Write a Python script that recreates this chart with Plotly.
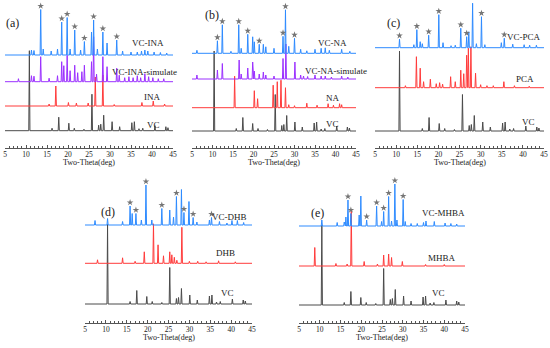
import plotly.graph_objects as go

# ---------------- data (2-theta in degrees, intensity in arbitrary units) ----------------
TICK_VALS = [5, 10, 15, 20, 25, 30, 35, 40, 45]
PANEL_TAGS = ["(a)", "(b)", "(c)", "(d)", "(e)"]
X_TITLE = "Two-Theta(deg)"

VC_POS = [10.4, 15.8, 17.4, 19.8, 21.1, 23.4, 25.3, 26.9, 27.4, 28.1, 30.1, 31.9,
          34.8, 35.4, 36.5, 37.4, 40.3, 42.9, 43.4]
VC_INT = [80, 2.5, 13.5, 7.5, 2.5, 1.5, 36.5, 5.5, 6.5, 15.5, 9, 4,
          8, 9, 2, 2.5, 5, 4, 3]

# panel (a)
VC_INA_POS = [11.3, 11.9, 13.5, 14.1, 16.0, 17.5, 18.5, 19.8, 20.5, 21.6, 23.0, 23.9, 25.6, 26.1,
              27.0, 28.3, 29.3, 31.6, 33.0, 35.0, 36.5, 37.5, 38.3, 39.0, 40.5, 42.0, 43.5]
VC_INA_INT = [5, 4.5, 45.5, 6, 4, 6, 33, 37.5, 6, 25, 5, 13.5, 23, 35,
              6, 23, 12, 15, 4, 3, 3, 4, 5, 4, 3, 2.5, 2]
VC_INA_STARS = [13.5, 18.5, 19.8, 21.6, 23.9, 26.1, 28.3, 31.6]
VC_INA_SIM_POS = [8.2, 11.3, 11.9, 13.5, 15.5, 17.5, 18.5, 19.0, 19.8, 20.5, 21.6, 22.3, 23.3, 23.9,
                  25.6, 26.1, 26.8, 28.3, 29.3, 31.6, 32.2, 33.5, 34.5, 35.5, 36.5, 37.3, 38.3,
                  39.2, 40.2, 41.5, 42.8]
VC_INA_SIM_INT = [3, 6, 5.5, 25, 3.5, 6, 20, 16, 26.5, 11, 16.5, 9, 10, 16.5,
                  20, 45, 7.5, 25, 15, 13.5, 6.5, 4, 5, 4, 6, 4, 8,
                  5, 4, 3, 3]
INA_POS = [15.5, 17.1, 20.1, 22.0, 24.8, 26.5, 28.3, 31.0, 37.6, 40.3, 43.0]
INA_INT = [2, 20, 3.5, 3, 3, 29, 31, 1.5, 3.5, 5, 2]

# panel (b)
VC_NA_POS = [6.2, 11.2, 12.4, 14.5, 16.4, 17.0, 18.6, 19.8, 20.2, 21.4, 22.4, 23.0, 25.0, 27.2,
             27.8, 28.6, 30.0, 31.5, 33.0, 35.0, 36.5, 37.5, 38.5, 41.5, 43.5]
VC_NA_INT = [3, 12.5, 28.5, 2, 28.5, 5, 19, 16.5, 11.5, 9, 9, 6.5, 5, 17,
             43.5, 7, 15, 4, 2.5, 4, 5, 5.5, 3, 4, 2]
VC_NA_STARS = [11.2, 12.4, 16.4, 18.6, 21.4, 27.2, 27.8, 30.0]
VC_NA_SIM_POS = [6.2, 11.2, 12.4, 16.5, 17.0, 18.6, 19.8, 20.2, 21.4, 22.4, 23.0, 25.0, 27.2, 27.9,
                 30.1, 31.5, 32.2, 33.2, 35.0, 36.5, 37.5, 39.0, 41.5, 43.0]
VC_NA_SIM_INT = [4, 9, 15.5, 19, 5, 11, 17, 8, 5, 7, 4, 3, 20.5, 35,
                 17, 4, 3, 2.5, 4, 3, 3, 2, 3, 2]
NA_POS = [15.4, 20.2, 21.0, 24.8, 25.8, 26.7, 27.8, 28.6, 30.0, 33.0, 35.5, 38.2, 39.5, 41.0, 41.5]
NA_INT = [31.5, 17, 9, 22.5, 26, 27.5, 20, 3, 2, 4.5, 2.5, 4, 2.5, 4, 3]

# panel (c)
VC_PCA_POS = [10.8, 14.2, 14.9, 15.7, 16.2, 17.7, 20.1, 21.1, 23.0, 24.0, 25.3, 26.7, 27.2, 28.1,
              29.0, 30.2, 31.0, 34.9, 35.6, 37.6, 40.3, 41.6, 43.2]
VC_PCA_INT = [8.5, 3, 18, 6, 4, 12.5, 33, 5, 2, 2.5, 19.5, 11, 16, 44.5,
              4, 31, 3, 5, 9.5, 3.5, 3, 2.5, 2.5]
VC_PCA_STARS = [10.8, 14.9, 17.7, 20.1, 25.3, 26.7, 30.2, 35.6]
PCA_POS = [12.2, 14.8, 15.7, 16.5, 18.1, 19.5, 20.3, 21.0, 22.9, 24.0, 25.3, 26.0, 26.7, 27.1,
           27.7, 28.8, 30.0, 31.5, 33.0, 35.5, 38.0, 41.5]
PCA_INT = [2, 31, 19.5, 6, 8.5, 4, 5, 3.5, 11, 6, 17.5, 14, 32.5, 39.5,
           41, 14.5, 3, 2, 2, 6, 2, 1.5]

# panel (d)
VC_DHB_POS = [7.4, 10.4, 14.0, 15.8, 16.3, 17.2, 18.5, 19.6, 21.0, 23.4, 25.3, 26.2, 26.9, 28.1,
              28.7, 29.9, 30.9, 31.8, 34.8, 35.3, 37.2, 39.0, 40.2, 41.5, 43.0]
VC_DHB_INT = [4.5, 6.5, 3.5, 19, 11.5, 11.5, 5, 40, 5, 16.5, 15, 8, 28.5, 35.5,
              12.5, 23.5, 7.5, 3, 5, 7.5, 3.5, 2, 4.5, 4.5, 2.5]
VC_DHB_STARS = [15.8, 17.2, 19.6, 23.4, 26.9, 28.7, 30.9, 35.3]
DHB_POS = [8.0, 14.0, 17.0, 19.2, 21.4, 22.5, 23.8, 25.3, 25.8, 26.4, 27.0, 28.2, 30.0, 32.0,
           34.0, 37.0, 41.0]
DHB_INT = [3.5, 5.5, 2, 11.5, 39.5, 18.5, 7.5, 11.5, 8.5, 6, 3, 36, 2, 2,
           1.5, 2.5, 1.5]

# panel (e)
VC_MHBA_POS = [10.5, 14.2, 15.9, 16.3, 16.8, 17.5, 19.5, 19.9, 21.3, 23.7, 24.9, 25.4, 26.6, 27.3,
               28.1, 28.6, 30.1, 30.6, 32.0, 33.5, 35.0, 35.6, 37.6, 40.2, 41.6, 43.0]
VC_MHBA_INT = [6, 3.5, 4, 9, 26, 12.5, 11, 30, 6, 20, 4.5, 14.5, 29.5, 5,
               42, 6, 26.5, 4.5, 2.5, 2.5, 3.5, 5, 4.5, 3, 2.5, 2]
VC_MHBA_STARS = [16.8, 17.5, 21.3, 23.7, 25.4, 26.6, 28.1, 30.1]
MHBA_POS = [8.8, 13.9, 16.6, 17.6, 20.7, 23.9, 25.4, 26.6, 27.3, 29.9, 35.5, 40.0]
MHBA_INT = [18.5, 2.5, 2, 56.5, 4.5, 2, 11, 12, 8.5, 4.5, 1.5, 1.5]

# ---------------- styling / layout ----------------
W, H = 550, 348
BLUE, PURPLE, RED, GRAY = "#2E8BFF", "#9B30FF", "#FF3B3B", "#4A4A4A"
STAR_COLOR = "#757575"
TXT = "#222222"
AXC = "#555555"
SERIF = "Liberation Serif, Times New Roman, serif"

PANELS = [
    dict(x0=5, x1=173, ybot=148, ytop=0, shift=0.4, ty=162.5),
    dict(x0=192, x1=356, ybot=148, ytop=0, shift=0.0, ty=162.5),
    dict(x0=375, x1=544, ybot=148, ytop=0, shift=0.4, ty=162.5),
    dict(x0=85, x1=252, ybot=322.7, ytop=174, shift=0.0, ty=337.5),
    dict(x0=299, x1=465, ybot=322.7, ytop=174, shift=0.1, ty=337.5),
]

SERIES = [
    [(VC_POS, VC_INT, 17.3, GRAY, None), (INA_POS, INA_INT, 42, RED, None),
     (VC_INA_SIM_POS, VC_INA_SIM_INT, 66.3, PURPLE, None),
     (VC_INA_POS, VC_INA_INT, 93, BLUE, VC_INA_STARS)],
    [(VC_POS, VC_INT, 17, GRAY, None), (NA_POS, NA_INT, 40.3, RED, None),
     (VC_NA_SIM_POS, VC_NA_SIM_INT, 69, PURPLE, None),
     (VC_NA_POS, VC_NA_INT, 94.7, BLUE, VC_NA_STARS)],
    [(VC_POS, VC_INT, 17, GRAY, None), (PCA_POS, PCA_INT, 60.3, RED, None),
     (VC_PCA_POS, VC_PCA_INT, 100.3, BLUE, VC_PCA_STARS)],
    [(VC_POS, VC_INT, 18.7, GRAY, None), (DHB_POS, DHB_INT, 59.4, RED, None),
     (VC_DHB_POS, VC_DHB_INT, 97.7, BLUE, VC_DHB_STARS)],
    [(VC_POS, VC_INT, 17.7, GRAY, None), (MHBA_POS, MHBA_INT, 56.7, RED, None),
     (VC_MHBA_POS, VC_MHBA_INT, 96.7, BLUE, VC_MHBA_STARS)],
]

LABELS = [
    [("VC-INA", 148, 43), ("VC-INA-simulate", 144, 72), ("INA", 152, 97), ("VC", 153, 125)],
    [("VC-NA", 332, 43), ("VC-NA-simulate", 336, 71), ("NA", 333, 98), ("VC", 332, 124)],
    [("VC-PCA", 524, 37), ("PCA", 525, 79), ("VC", 528, 122)],
    [("VC-DHB", 230, 216.5), ("DHB", 225, 253), ("VC", 227, 293)],
    [("VC-MHBA", 443, 213), ("MHBA", 442, 258), ("VC", 438, 293)],
]
TAG_POS = [(12, 23), (212, 15), (393, 23), (108, 212), (317, 213)]

PEAK_W = 0.14


def spectrum(pos, ints, base, shift):
    xs, ys = [5], [base]
    for p, h in sorted(zip(pos, ints)):
        p = p + shift
        xs += [p - PEAK_W, p, p + PEAK_W]
        ys += [base, base + h, base]
    xs.append(45)
    ys.append(base)
    return xs, ys


fig = go.Figure()
layout = dict(width=W, height=H, margin=dict(l=0, r=0, t=0, b=0, autoexpand=False),
              paper_bgcolor="white", plot_bgcolor="white", showlegend=False,
              font=dict(family=SERIF, color=TXT))
annotations = []

for i, (pan, series) in enumerate(zip(PANELS, SERIES)):
    n = "" if i == 0 else str(i + 1)
    xa, ya = "x" + n, "y" + n
    yrange = pan["ybot"] - pan["ytop"]
    for pos, ints, base, color, stars in series:
        shift = pan["shift"] if pos is VC_POS else 0.0
        xs, ys = spectrum(pos, ints, base, shift)
        fig.add_trace(go.Scatter(x=xs, y=ys, mode="lines", xaxis=xa, yaxis=ya,
                                 line=dict(color=color, width=1), hoverinfo="skip"))
        if stars:
            sy = []
            for s in stars:
                k = min(range(len(pos)), key=lambda j: abs(pos[j] - s))
                sy.append(base + ints[k] + 3.5)
            fig.add_trace(go.Scatter(x=stars, y=sy, mode="markers", xaxis=xa, yaxis=ya,
                                     marker=dict(symbol="star", size=5, color=STAR_COLOR),
                                     hoverinfo="skip", cliponaxis=False))
    layout["xaxis" + n] = dict(
        domain=[pan["x0"] / W, pan["x1"] / W], anchor=ya, range=[5, 45], automargin=False,
        tickvals=TICK_VALS, ticks="inside", ticklen=3, tickwidth=1, tickcolor=AXC,
        minor=dict(ticks="inside", dtick=1, ticklen=2, tickwidth=1, tickcolor=AXC),
        showline=True, linecolor=AXC, linewidth=1, showgrid=False, zeroline=False,
        tickfont=dict(size=7.5, family=SERIF, color=TXT), ticklabelstandoff=-1,
    )
    layout["yaxis" + n] = dict(
        domain=[1 - pan["ybot"] / H, 1 - pan["ytop"] / H], anchor=xa, automargin=False,
        range=[0, yrange], visible=False,
    )
    annotations.append(dict(text=X_TITLE, x=(pan["x0"] + pan["x1"]) / 2 / W, y=1 - pan["ty"] / H,
                            xref="paper", yref="paper", showarrow=False,
                            xanchor="center", yanchor="middle",
                            font=dict(size=8, family=SERIF, color=TXT)))
    for text, px, py in LABELS[i]:
        annotations.append(dict(text=text, x=px / W, y=1 - py / H, xref="paper", yref="paper",
                                showarrow=False, xanchor="center", yanchor="middle",
                                font=dict(size=9, family=SERIF, color=TXT)))
    tx, ty = TAG_POS[i]
    annotations.append(dict(text=PANEL_TAGS[i], x=tx / W, y=1 - ty / H, xref="paper", yref="paper",
                            showarrow=False, xanchor="center", yanchor="middle",
                            font=dict(size=12, family=SERIF, color=TXT)))

layout["annotations"] = annotations
fig.update_layout(**layout)
fig.write_html("out.html", config={"displayModeBar": False},
               post_script="document.body.style.margin='0';document.body.style.overflow='hidden';")
